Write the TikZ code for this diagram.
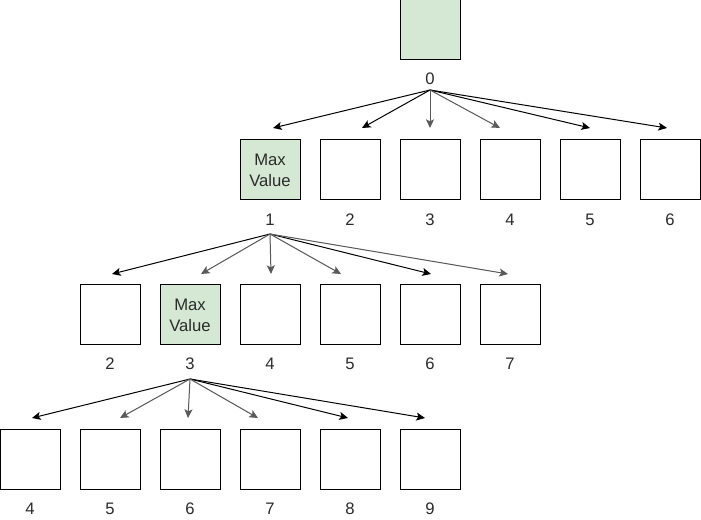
\documentclass[tikz,border=0pt]{standalone}
\usepackage{fontspec}
\setmainfont{Liberation Sans}
\usetikzlibrary{arrows.meta}
\definecolor{leaf}{HTML}{D5E8D4}
\definecolor{ink}{HTML}{2B2B2B}
\definecolor{softline}{HTML}{5A5A5A}
\begin{document}
\begin{tikzpicture}[x=0.75pt,y=-0.75pt,
  cell/.style={draw=black, line width=0.75pt, fill=white, minimum width=45pt,
    minimum height=45pt, inner sep=0pt, outer sep=0pt, align=center,
    font=\fontsize{12.5pt}{15.75pt}\selectfont, text=ink},
  best/.style={cell, fill=leaf},
  idx/.style={anchor=base, inner sep=0pt, font=\fontsize{12.5pt}{14pt}\selectfont, text=ink},
  edge/.style={line width=0.75pt, draw=black,
    -{Stealth[length=6.5pt,width=6pt,inset=1.5pt]}},
  softedge/.style={edge, draw=softline, fill=softline}]
  \fill[white] (0,0) rectangle (701,520);
  \useasboundingbox (0,0) rectangle (701,520);

  % root
  \node[best] (b0) at (430,30) {};
  \node[idx] (l0) at (430,85) {0};
  \coordinate (o0) at (430,90);

  % first level: children 1..6
  \node[best] (b1-1) at (270,170) {Max\\Value};
  \foreach \i/\x in {2/350,3/430,4/510,5/590,6/670}
    \node[cell] (b1-\i) at (\x,170) {};
  \foreach \i/\x in {1/270,2/350,3/430,4/510,5/590,6/670}
    \node[idx] (l1-\i) at (\x,226) {\i};
  \coordinate (o1) at (270,234);
  \foreach \i/\x in {1/273,2/362,3/430,4/500,5/590,6/667}
    \coordinate (t1-\i) at (\x,128);

  % second level: children 2..7 of node 1
  \node[cell] (b2-2) at (110,315) {};
  \node[best] (b2-3) at (190,315) {Max\\Value};
  \foreach \i/\x in {4/270,5/350,6/430,7/510}
    \node[cell] (b2-\i) at (\x,315) {};
  \foreach \i/\x in {2/110,3/190,4/270,5/350,6/430,7/510}
    \node[idx] (l2-\i) at (\x,370) {\i};
  \coordinate (o2) at (190,379);
  \foreach \i/\x in {2/112,3/201,4/271,5/341,6/431,7/508}
    \coordinate (t2-\i) at (\x,274);

  % third level: children 4..9 of node 3
  \foreach \i/\x in {4/30,5/110,6/190,7/270,8/350,9/430}
    \node[cell] (b3-\i) at (\x,460) {};
  \foreach \i/\x in {4/30,5/110,6/190,7/270,8/350,9/430}
    \node[idx] (l3-\i) at (\x,515) {\i};
  \foreach \i/\x in {4/32,5/120,6/188,7/258,8/348,9/425}
    \coordinate (t3-\i) at (\x,418);

  % fan-out arrows
  \foreach \i in {1,2,5,6} \draw[edge] (o0) -- (t1-\i);
  \foreach \i in {3,4} \draw[softedge] (o0) -- (t1-\i);

  \foreach \i in {2,6} \draw[edge] (o1) -- (t2-\i);
  \foreach \i in {3,4,5,7} \draw[softedge] (o1) -- (t2-\i);

  \foreach \i in {4,8,9} \draw[edge] (o2) -- (t3-\i);
  \foreach \i in {5,6,7} \draw[softedge] (o2) -- (t3-\i);
\end{tikzpicture}
\end{document}
